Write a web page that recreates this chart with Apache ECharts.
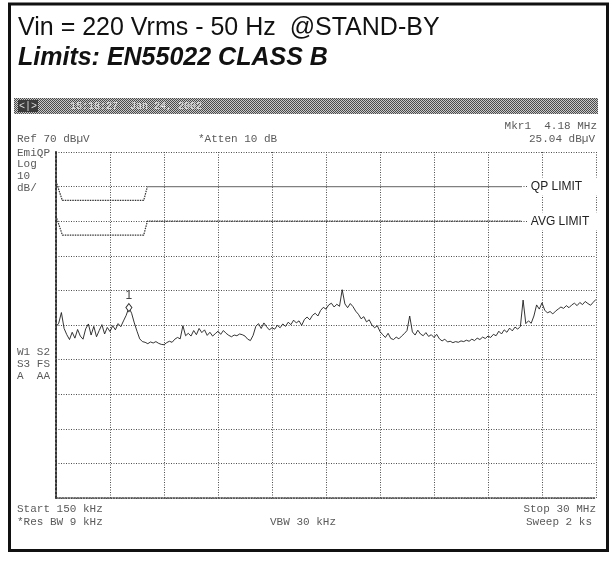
<!DOCTYPE html>
<html>
<head>
<meta charset="utf-8">
<script src="https://cdn.jsdelivr.net/npm/echarts@6/dist/echarts.min.js"></script>
<style>
  html, body { margin: 0; padding: 0; background: #fff; }
  #chart { width: 612px; height: 563px; }
</style>
</head>
<body>
<div id="chart"></div>
<script>
// Sweep settings of the analyzer (MHz) – trace points are spread evenly across the span
const sweepStartMHz = 0.15;
const sweepStopMHz = 30;

// Conducted emission trace, dBµV, one value per sweep point
const traceLevels = [
  19.5, 20.5, 23.6, 19.0, 17.2, 15.8, 17.9, 16.2, 18.7, 16.8,
  15.9, 18.9, 20.3, 17.1, 19.6, 16.6, 18.4, 20.1, 17.4, 19.3,
  18.1, 19.8, 18.6, 20.4, 19.5, 21.2, 22.8, 25.04, 23.4, 20.6,
  18.2, 16.0, 15.2, 15.0, 14.6, 15.1, 14.8, 15.2, 14.7, 14.4,
  14.3, 14.9, 15.3, 15.0, 15.9, 16.4, 16.0, 19.8, 16.9, 17.6,
  16.8, 18.4, 17.2, 19.0, 17.8, 18.6, 17.0, 17.9, 16.8, 17.5,
  18.2, 17.3, 18.4, 17.6, 17.0, 16.6, 17.1, 16.9, 17.4, 17.2,
  16.8, 15.9, 15.5, 17.0, 19.6, 20.4, 19.0, 20.6, 19.5, 18.6,
  19.2, 18.8, 19.9, 19.2, 20.3, 19.6, 20.8, 20.1, 21.4, 20.6,
  21.2, 19.9, 21.6, 22.3, 21.5, 22.8, 23.4, 22.6, 24.2, 25.1,
  24.6, 25.8, 26.3, 25.2, 26.0, 25.4, 30.2, 26.1, 25.0, 26.2,
  25.3, 24.0, 23.1, 21.8, 22.4, 20.9, 21.5, 20.0, 19.2, 19.8,
  18.1, 17.2, 16.4, 17.6, 16.1, 15.8, 16.5, 16.0, 16.8, 17.5,
  18.4, 22.6, 18.0, 17.1, 18.5, 17.4, 16.9, 17.8, 16.7, 17.2,
  16.4, 17.3, 16.0, 15.4, 15.9, 15.1, 15.3, 14.9, 15.2, 15.0,
  15.4, 15.2, 15.6, 15.3, 15.9, 15.5, 16.2, 15.8, 16.5, 16.1,
  16.8, 16.4, 17.3, 16.9, 18.2, 17.4, 18.6, 17.9, 19.1, 18.3,
  19.4, 18.8, 19.6, 27.2, 20.4, 21.2, 20.5, 22.6, 25.8, 24.6,
  26.4, 24.3, 23.5, 23.9, 23.2, 24.0, 24.6, 25.2, 24.8, 25.6,
  25.0, 25.8, 26.3, 25.6, 26.5, 25.9, 26.8, 26.2, 25.7, 26.6,
  27.4
];

// EN55022 class B limit lines as drawn on the display: [MHz, dBµV]
const qpLimitLow = [[0.15, 61.5], [0.5, 56], [5.0, 56], [5.2, 60]];
const qpLimitHigh = [[5.2, 60], [25.9, 60]];
const avgLimit = [[0.15, 51.5], [0.5, 46], [5.0, 46], [5.2, 50], [25.9, 50]];

// Marker 1
const markerFreqMHz = 4.18;
const markerLevel = 25.04;

// Display scale: reference level 70 dBµV, 10 dB/div, 10 divisions
const refLevel = 70;
const dbPerDiv = 10;
const divisions = 10;

const tracePoints = traceLevels.map((v, i) => [
  sweepStartMHz + i * (sweepStopMHz - sweepStartMHz) / (traceLevels.length - 1), v
]);

const mono = "'Liberation Mono', 'DejaVu Sans Mono', monospace";
const sans = "'Liberation Sans', Arial, sans-serif";
const dotInk = '#5a5a5a';

function ditherCanvas() {
  const c = document.createElement('canvas');
  c.width = 2; c.height = 2;
  const g = c.getContext('2d');
  g.fillStyle = '#c8c8c8'; g.fillRect(0, 0, 2, 2);
  g.fillStyle = '#4a4a4a'; g.fillRect(0, 0, 1, 1); g.fillRect(1, 1, 1, 1);
  return c;
}

function monoText(text, x, y, align) {
  return {
    type: 'text', x: x, y: y, silent: true,
    style: { text: text, font: '11px ' + mono, fill: dotInk,
             textAlign: align || 'left', textVerticalAlign: 'middle' }
  };
}

const chart = echarts.init(document.getElementById('chart'), null, { renderer: 'canvas' });

const gridDots = { color: '#4d4d4d', width: 1, type: [1, 1.5] };

const option = {
  animation: false,
  backgroundColor: '#fff',
  grid: { left: 56, top: 152, width: 540, height: 346 },
  xAxis: [
    { // division grid
      type: 'value', min: 0, max: divisions, interval: 1,
      axisLabel: { show: false }, axisTick: { show: false },
      axisLine: { show: true, onZero: false, lineStyle: { color: '#444', width: 1.5, type: 'dotted' } },
      splitLine: { show: true, lineStyle: gridDots }
    },
    { // frequency scale for the data
      type: 'value', min: sweepStartMHz, max: sweepStopMHz, show: false,
      axisLine: { show: false, onZero: false },
      splitLine: { show: false }
    }
  ],
  yAxis: {
    type: 'value', min: refLevel - dbPerDiv * divisions, max: refLevel, interval: dbPerDiv,
    axisLabel: { show: false }, axisTick: { show: false },
    axisLine: { show: true, onZero: false, lineStyle: { color: '#333', width: 2, type: 'dotted' } },
    splitLine: { show: true, lineStyle: gridDots }
  },
  series: [
    {
      type: 'line', xAxisIndex: 1, data: avgLimit, symbol: 'none', z: 3,
      lineStyle: { color: '#333', width: 1.2, type: [1.5, 1] },
      endLabel: {
        show: true, formatter: 'AVG LIMIT', distance: 6, color: '#222',
        font: '10px ' + sans, backgroundColor: '#fff', padding: [3, 10, 3, 3]
      }
    },
    {
      type: 'line', xAxisIndex: 1, data: qpLimitLow, symbol: 'none', z: 3,
      lineStyle: { color: '#333', width: 1.2, type: [1.5, 1] }
    },
    {
      type: 'line', xAxisIndex: 1, data: qpLimitHigh, symbol: 'none', z: 3,
      lineStyle: { color: '#808080', width: 1.3 },
      endLabel: {
        show: true, formatter: 'QP LIMIT', distance: 6, color: '#222',
        font: '10px ' + sans, backgroundColor: '#fff', padding: [3, 16, 3, 3]
      }
    },
    {
      type: 'line', xAxisIndex: 1, data: tracePoints, symbol: 'none', z: 4,
      lineStyle: { color: '#1e1e1e', width: 0.9 },
      markPoint: {
        symbol: 'diamond', symbolSize: [6, 8],
        itemStyle: { color: '#fff', borderColor: '#333', borderWidth: 1 },
        label: { show: true, position: 'top', formatter: '1', distance: 1,
                 color: '#444', font: '8px ' + mono },
        data: [{ coord: [markerFreqMHz, markerLevel] }]
      }
    }
  ],
  graphic: [
    { type: 'rect', silent: true, z: 100,
      shape: { x: 9.5, y: 4, width: 598, height: 546.5 },
      style: { fill: 'none', stroke: '#111', lineWidth: 3 } },
    { type: 'text', x: 18, y: 28, silent: true,
      style: { text: 'Vin = 220 Vrms - 50 Hz  @STAND-BY', font: '25px ' + sans,
               fill: '#111', textVerticalAlign: 'middle' } },
    { type: 'text', x: 18, y: 58, silent: true,
      style: { text: 'Limits: EN55022 CLASS B', font: 'italic bold 25px ' + sans,
               fill: '#111', textVerticalAlign: 'middle' } },
    { type: 'rect', silent: true,
      shape: { x: 14, y: 98, width: 584, height: 16 },
      style: { fill: { image: ditherCanvas(), repeat: 'repeat' } } },
    { type: 'rect', silent: true,
      shape: { x: 18, y: 100, width: 20, height: 12 },
      style: { fill: '#3a3a3a' } },
    { type: 'text', x: 28, y: 106, silent: true,
      style: { text: '<|>', font: '10px ' + mono, fill: '#ddd',
               textAlign: 'center', textVerticalAlign: 'middle' } },
    { type: 'text', x: 70, y: 106, silent: true,
      style: { text: '15:18:27  Jan 24, 2002', font: '10px ' + mono, fill: '#e6e6e6',
               textVerticalAlign: 'middle' } },
    monoText('Mkr1  4.18 MHz', 597, 126, 'right'),
    monoText('Ref 70 dBµV', 17, 139),
    monoText('*Atten 10 dB', 198, 139),
    monoText('25.04 dBµV', 595, 139, 'right'),
    monoText('EmiQP', 17, 153),
    monoText('Log', 17, 164),
    monoText('10', 17, 176),
    monoText('dB/', 17, 188),
    monoText('W1 S2', 17, 352),
    monoText('S3 FS', 17, 364),
    monoText('A  AA', 17, 376),
    monoText('Start 150 kHz', 17, 509),
    monoText('Stop 30 MHz', 596, 509, 'right'),
    monoText('*Res BW 9 kHz', 17, 522),
    monoText('VBW 30 kHz', 270, 522),
    monoText('Sweep 2 ks', 592, 522, 'right')
  ]
};

chart.setOption(option);
</script>
</body>
</html>
